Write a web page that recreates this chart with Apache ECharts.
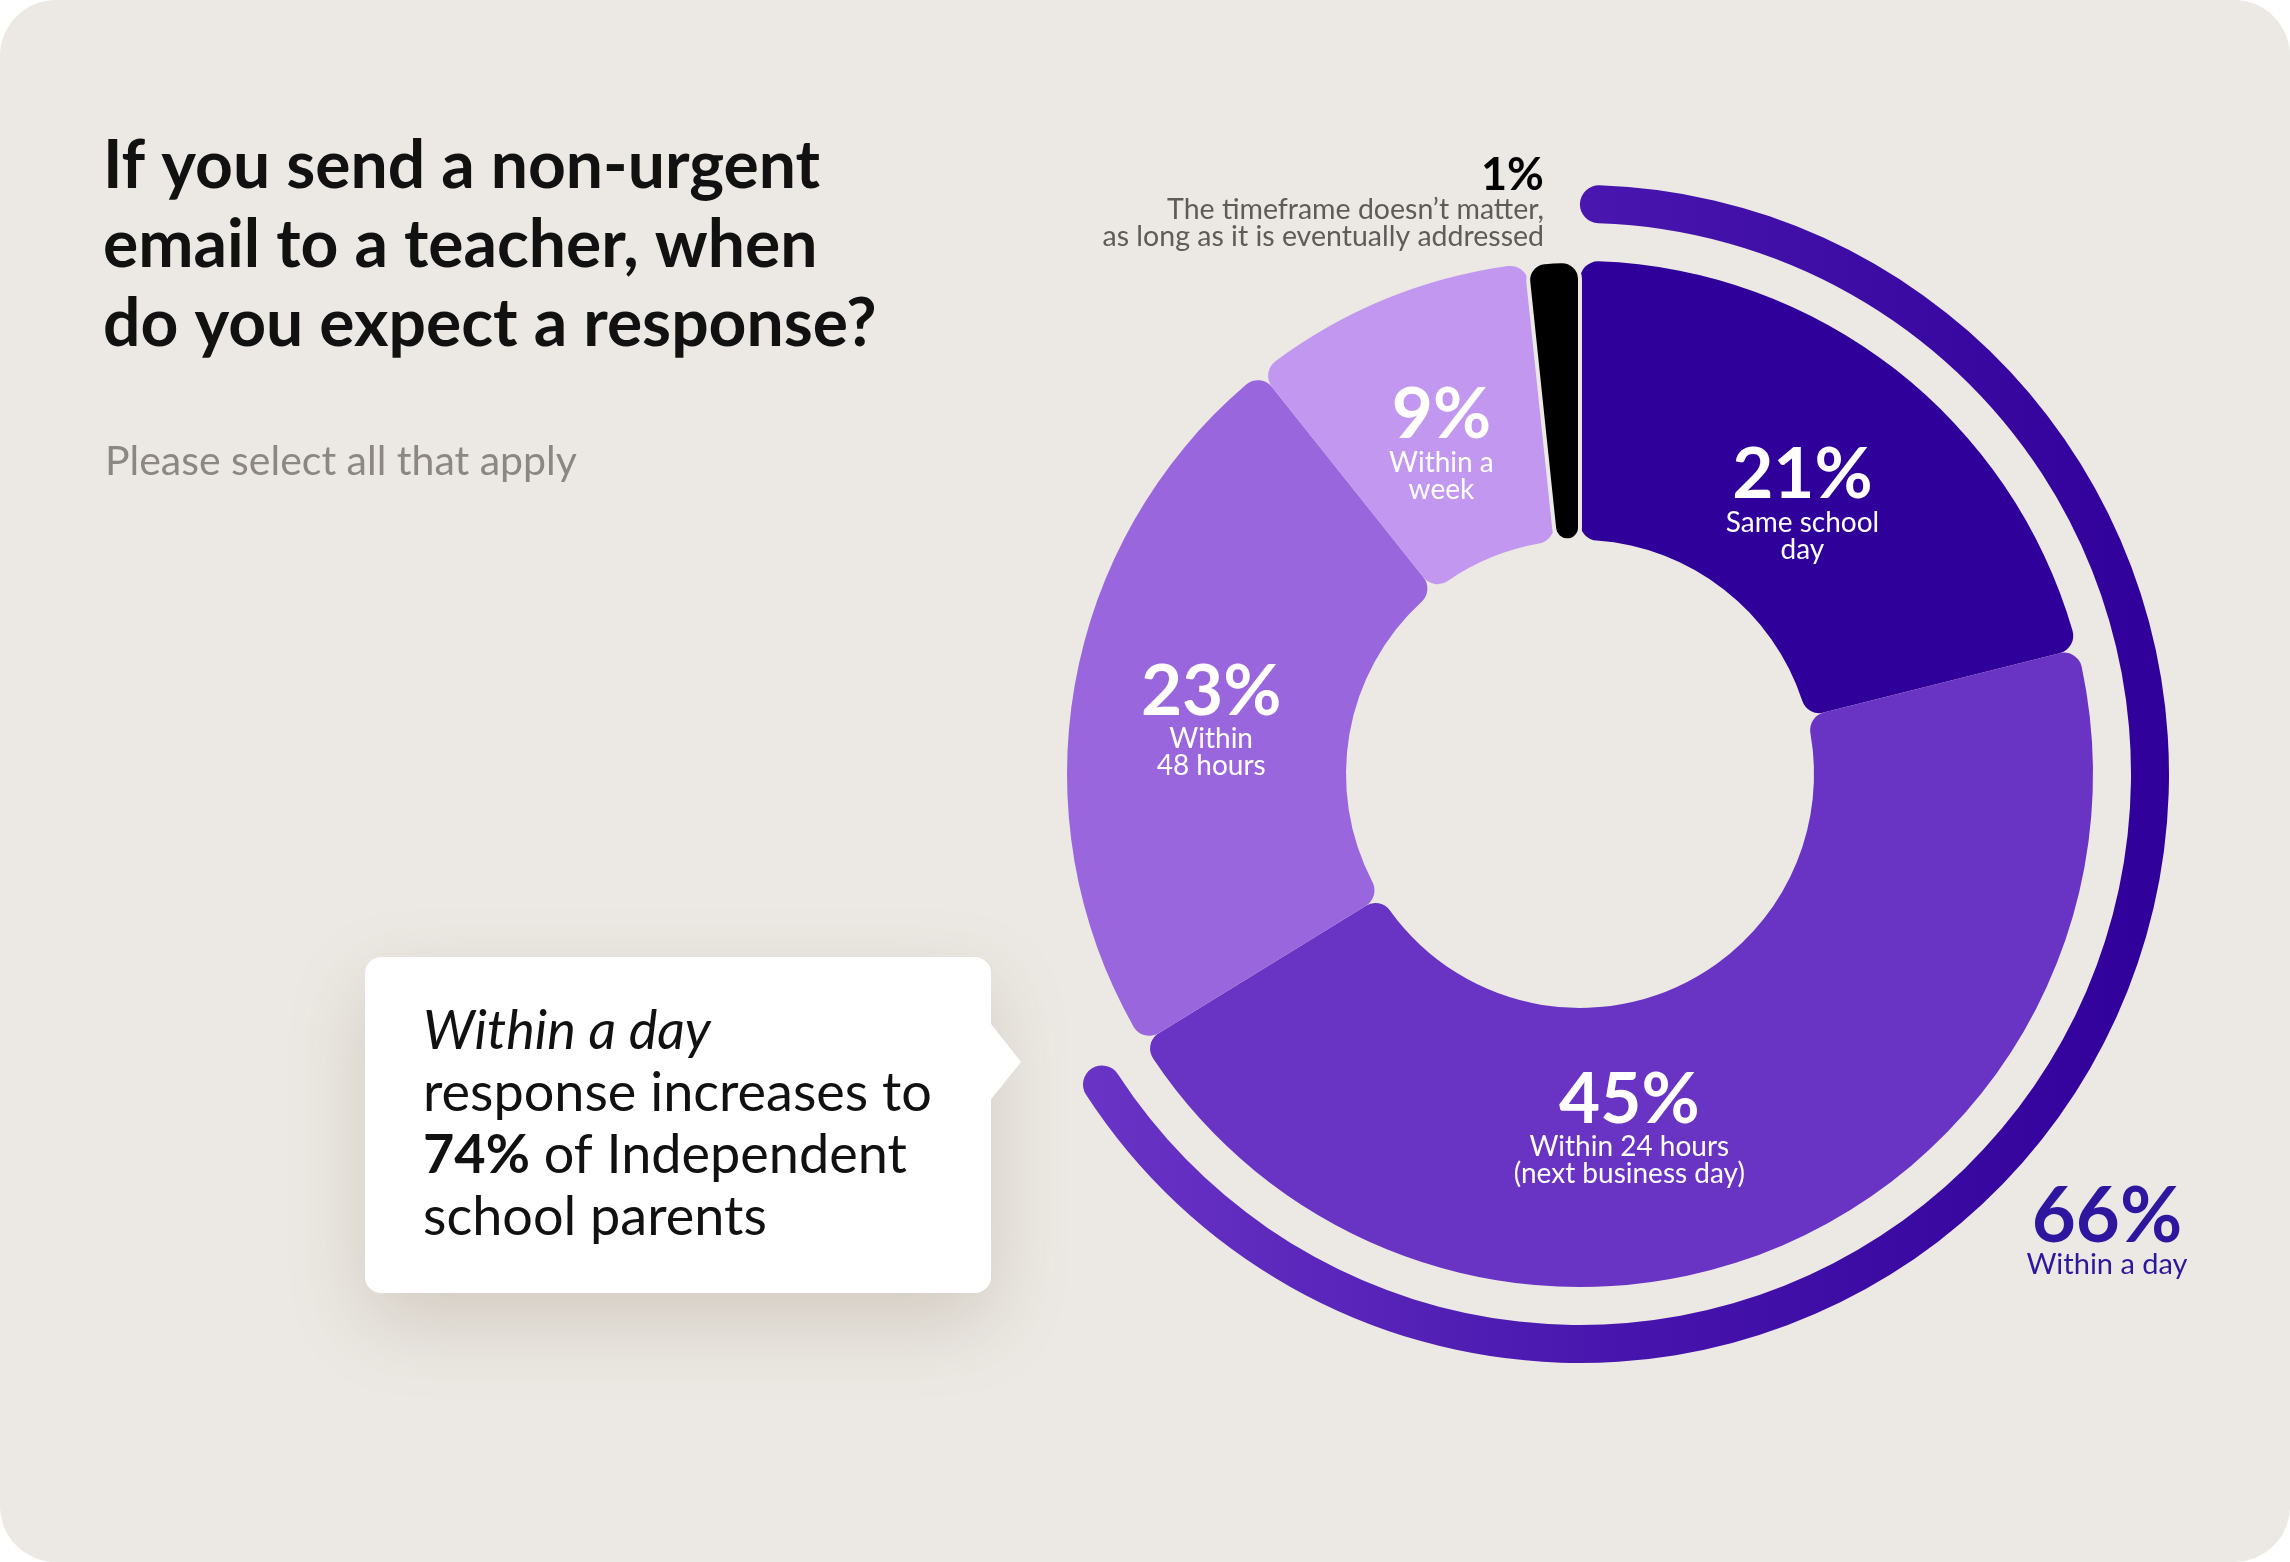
<!DOCTYPE html>
<html>
<head>
<meta charset="utf-8">
<script src="https://cdn.jsdelivr.net/npm/echarts@6/dist/echarts.min.js"></script>
<style>
  html, body { margin: 0; padding: 0; background: #ffffff; }
  #chart { width: 2290px; height: 1562px; background: #ECE9E4; border-radius: 56px; overflow: hidden; }
</style>
</head>
<body>
<div id="chart"></div>
<script>
// answers, clockwise from 12 o'clock
var categories = [
    'Same school\nday',
    'Within 24 hours\n(next business day)',
    'Within\n48 hours',
    'Within a\nweek',
    'The timeframe doesn\u2019t matter,\nas long as it is eventually addressed'
];
var shares = [21, 45, 23, 9, 1];

// outer arc: first two answers combined
var withinDayName = 'Within a day';
var withinDayShare = 66;

// callout
var calloutShare = 74;
var calloutGroup = 'Independent school parents';

var sliceColors = ['#30009A', '#6933C4', '#9966DD', '#C197EF', '#000000'];
var labelOffsets = [[-9, 25], [-97, 6], [2, 10], [4, 17], [0, 0]];

var FONT = 'Lato, "Noto Sans", sans-serif';
var BG = '#ECE9E4';
var cx = 1580, cy = 774;

var last = categories.length - 1;

var pieData = categories.map(function (name, i) {
    var item = {
        name: name,
        value: shares[i],
        itemStyle: { color: sliceColors[i] },
        label: { offset: labelOffsets[i] }
    };
    if (i === last) {
        // thin slice gets a little breathing room from its neighbours
        item.itemStyle.borderColor = BG;
        item.itemStyle.borderWidth = 4;
        item.label = { show: false };
    }
    return item;
});

var option = {
    backgroundColor: 'transparent',
    animation: false,
    title: [
        {
            text: 'If you send a non-urgent\nemail to a teacher, when\ndo you expect a response?',
            left: 98,
            top: 122,
            textStyle: {
                fontFamily: FONT,
                fontSize: 66,
                fontWeight: 'bold',
                lineHeight: 79,
                color: '#111111'
            }
        },
        {
            text: 'Please select all that apply',
            left: 100,
            top: 436,
            textStyle: {
                fontFamily: FONT,
                fontSize: 41,
                fontWeight: 'normal',
                color: '#8C8782'
            }
        }
    ],
    series: [
        {
            type: 'pie',
            center: [cx, cy],
            radius: [234, 513],
            startAngle: 90,
            clockwise: true,
            minAngle: 6,
            avoidLabelOverlap: false,
            silent: true,
            itemStyle: {
                borderRadius: 18
            },
            label: {
                show: true,
                position: 'inside',
                overflow: 'none',
                formatter: '{p|{c}%}\n{n|{b}}',
                rich: {
                    p: { fontFamily: FONT, fontSize: 71, fontWeight: 'bold', color: '#ffffff', lineHeight: 68, align: 'center' },
                    n: { fontFamily: FONT, fontSize: 28, color: '#ffffff', lineHeight: 27, align: 'center' }
                }
            },
            labelLine: { show: false },
            data: pieData
        },
        {
            type: 'gauge',
            center: [cx, cy],
            radius: 589,
            startAngle: 88.1,
            endAngle: -268.1,
            min: 0,
            max: 100,
            silent: true,
            pointer: { show: false },
            anchor: { show: false },
            axisLine: { show: false },
            axisTick: { show: false },
            splitLine: { show: false },
            axisLabel: { show: false },
            progress: {
                show: true,
                roundCap: true,
                width: 38,
                itemStyle: {
                    color: new echarts.graphic.LinearGradient(0, 0, 1, 0, [
                        { offset: 0, color: '#6A34C6' },
                        { offset: 0.48, color: '#4816AE' },
                        { offset: 1, color: '#30009A' }
                    ])
                }
            },
            title: { show: false },
            detail: {
                show: true,
                offsetCenter: [527, 458],
                formatter: function (v) {
                    return '{v|' + v + '%}\n{n|' + withinDayName + '}';
                },
                rich: {
                    v: { fontFamily: FONT, fontSize: 76, fontWeight: 'bold', color: '#2E179E', lineHeight: 66, align: 'center' },
                    n: { fontFamily: FONT, fontSize: 29, fontWeight: 'normal', color: '#2E179E', lineHeight: 30, align: 'center' }
                }
            },
            data: [{ name: withinDayName, value: withinDayShare }]
        }
    ],
    graphic: [
        {
            type: 'text',
            right: 2290 - 1544,
            top: 153,
            silent: true,
            style: {
                text: '{p|' + shares[last] + '%}\n{d|' + categories[last] + '}',
                align: 'right',
                rich: {
                    p: { fontFamily: FONT, fontSize: 45, fontWeight: 'bold', fill: '#000000', lineHeight: 42, align: 'right' },
                    d: { fontFamily: FONT, fontSize: 28.5, fill: '#5E5B58', lineHeight: 27, align: 'right' }
                }
            }
        },
        {
            type: 'group',
            silent: true,
            children: [
                {
                    type: 'rect',
                    shape: { x: 365, y: 957, width: 626, height: 336, r: 16 },
                    style: {
                        fill: '#ffffff',
                        shadowBlur: 80,
                        shadowOffsetY: 28,
                        shadowColor: 'rgba(110, 80, 50, 0.2)'
                    }
                },
                {
                    type: 'polygon',
                    shape: { points: [[988, 1020], [1021, 1062], [988, 1103]] },
                    style: { fill: '#ffffff' }
                },
                {
                    type: 'text',
                    x: 423,
                    y: 1001,
                    style: {
                        text: '{i|' + withinDayName + '}\n{n|response increases to}\n{b|' + calloutShare + '%}{n| of ' +
                            calloutGroup.replace(' school', '}\n{n|school') + '}',
                        verticalAlign: 'top',
                        rich: {
                            i: { fontFamily: FONT, fontSize: 54, fontStyle: 'italic', fill: '#111111', lineHeight: 62 },
                            n: { fontFamily: FONT, fontSize: 54, fill: '#111111', lineHeight: 62 },
                            b: { fontFamily: FONT, fontSize: 54, fontWeight: 'bold', fill: '#111111', lineHeight: 62 }
                        }
                    }
                }
            ]
        }
    ]
};

var chart = echarts.init(document.getElementById('chart'));
chart.setOption(option);
</script>
</body>
</html>
